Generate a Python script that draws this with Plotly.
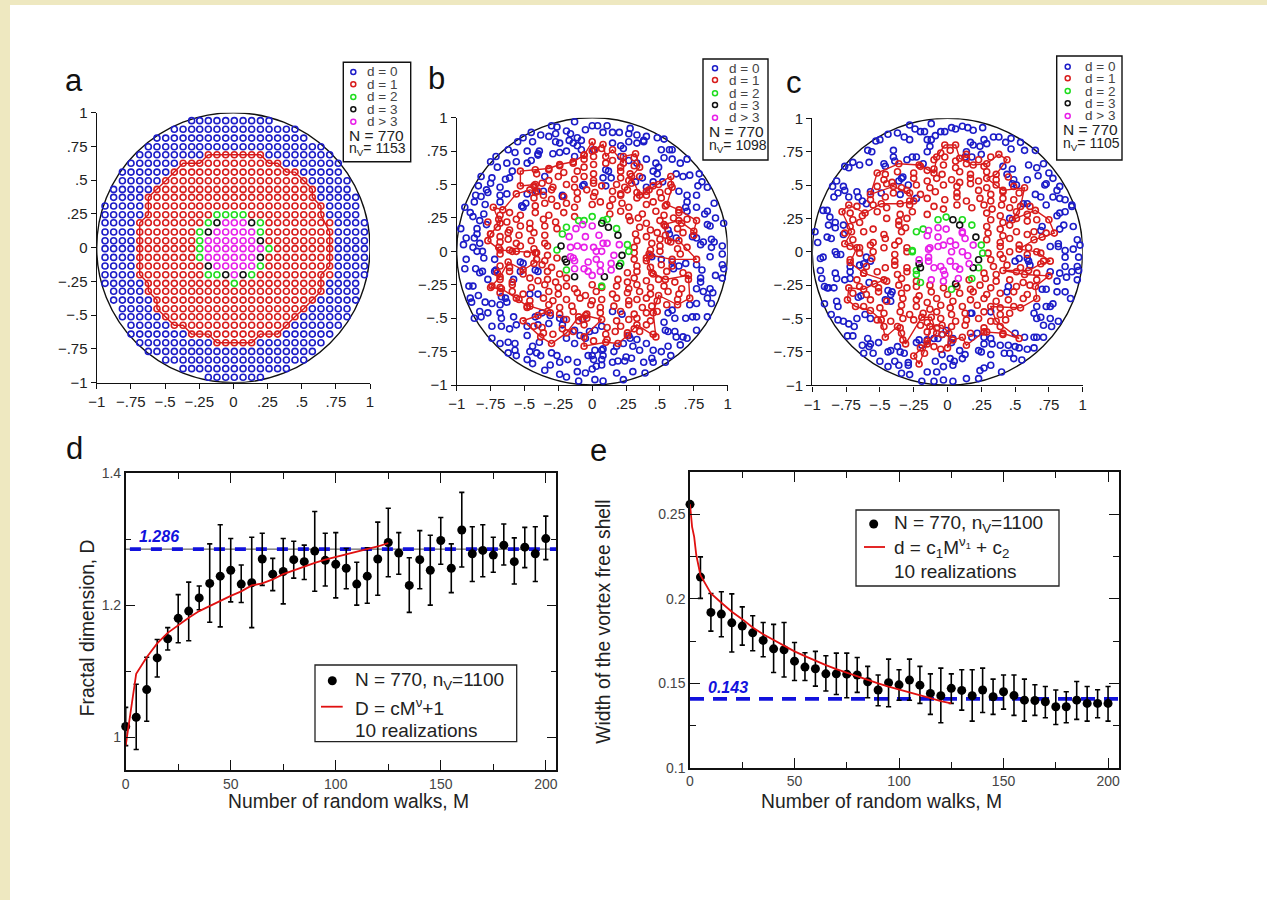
import plotly.graph_objects as go

W, H = 1267, 900
FONT = "Liberation Sans"
BLUE, RED, GREEN, BLACK, MAGENTA = "#1c1cc8", "#d81c1c", "#1edc1e", "#111111", "#e81fe8"

# ---------- panel a: lattice ----------
A_COLS = [-.939,-.876,-.812,-.749,-.685,-.622,-.559,-.495,-.432,-.368,-.305,-.246,-.183,-.12,-.056,.007,
          .071,.134,.198,.261,.324,.388,.451,.515,.578,.641,.705,.768,.832,.895,.959]
A_ROWS = [.941,.877,.812,.748,.689,.625,.56,.496,.432,.373,.309,.244,.185,.116,.052,-.007,-.072,-.136,-.2,
          -.264,-.323,-.388,-.452,-.511,-.575,-.64,-.704,-.768,-.832,-.896,-.96]
A_SPANS = [(10,19),(8,22),(6,23),(5,25),(4,26),(3,27),(2,27),(2,28),(1,28),(1,29),(0,29),(0,29),(0,30),(0,30),(0,30),
           (0,30),(0,30),(0,30),(0,30),(0,29),(1,29),(1,29),(2,28),(2,28),(3,27),(3,26),(4,25),(5,24),(7,23),(9,21),(12,18)]
A_RED_SPANS = {4:(12,18),5:(9,20),6:(8,22),7:(7,23),8:(6,24),9:(5,24),10:(5,25),11:(5,25),12:(4,26),13:(4,26),14:(4,26),
               15:(4,26),16:(4,26),17:(4,26),18:(4,26),19:(5,25),20:(5,25),21:(6,24),22:(6,23),23:(7,22),24:(8,21),25:(10,20),26:(13,17)}
A_CORE = {11:(13,"GGGG"),12:(12,"GKMMMKG"),13:(11,"GKMMMMMG"),14:(11,"GMMMMMMK"),15:(11,"GMMMMMMMG"),
          16:(11,"GMMMMMMK"),17:(12,"KMMMMMG"),18:(12,"GGKMKG"),19:(15,"G")}
A_PATH = [(4,12),(4,18),(5,19),(5,20),(6,21),(6,22),(7,23),(8,24),(9,24),(10,25),(11,25),(13,26),(17,26),(18,25),(20,25),
          (21,24),(22,23),(23,22),(24,21),(25,20),(25,18),(26,17),(26,13),(25,12),(25,10),(24,9),(24,8),(23,7),(22,6),(21,6),
          (20,5),(19,5),(18,4),(12,4),(11,5),(9,5),(8,6),(7,7),(6,8),(5,9),(5,11),(4,12)]

# ---------- panel b (hundredths of the axis unit) ----------
B_BLUE = [(-30,94),(-26,93),(-13,97),(-19,90),(-16,88),(-5,91),(0,94),(4,94),(11,94),(8,89),(15,89),(20,89),(28,92),(27,88),(33,87),(40,86),(38,83),(48,85),(53,84),(59,76),(51,76),(57,76),
(-45,89),(-38,87),(-32,86),(-27,88),(-55,82),(-51,85),(-44,82),(-27,82),(-24,81),(-17,83),(-11,85),(-8,83),(-14,81),(-11,79),(15,81),(21,79),(23,77),(27,82),(33,81),(38,82),(-62,76),(-57,74),(-48,75),(-40,73),(-39,75),(-29,73),(-24,74),(-19,75),(-13,71),(-8,76),(1,76),
(-75,67),(-71,71),(-63,66),(-56,67),(-48,66),(-45,68),(-40,72),(21,71),(27,68),(33,66),(40,69),(47,66),(53,70),(59,69),(65,66),(70,69),
(-70,63),(-82,56),(-74,55),(-64,54),(-61,55),(-59,60),(45,60),(49,63),(48,58),(45,52),(52,52),(62,58),(67,56),(72,57),(79,58),(81,52),(78,49),(85,48),
(-35,56),(10,61),(12,60),(8,55),(14,55),(-7,49),(-6,50),(10,49),(-22,42),(-22,41),(37,55),(40,48),(32,52),
(-84,49),(-78,46),(-75,51),(-68,48),(-86,42),(-82,41),(-77,44),(-68,42),(-63,43),(-48,43),(-52,34),(-49,36),(-51,33),(-41,45),(-36,45),
(64,45),(70,42),(77,42),(70,37),(69,33),(90,36),(85,30),(77,33),(70,30),(-94,33),(-87,37),(-79,35),(-68,37),(-90,29),(-88,26),(-80,28),(-97,17),(-83,23),(-78,20),(-85,17),(-85,13),(-93,10),(-87,10),(-95,5),(-88,3),(-83,6),
(85,20),(87,19),(91,25),(97,21),(83,28),(74,11),(77,10),(82,7),(88,9),(90,7),(96,4),(88,3),(96,-2),(87,-4),(80,5),(56,16),(57,13),(62,10),
(-93,-6),(-85,0),(-81,0),(-80,-5),(-94,-13),(-86,-13),(-83,-16),(-77,-21),(-81,-15),(-72,-6),(-71,-14),(-72,-15),
(-53,-8),(-51,-9),(-42,-14),(-40,-15),(-58,-21),(-53,-15),(44,-4),(51,-6),(59,-8),(60,-13),(64,-11),(69,-9),(77,-10),(81,-14),(80,-20),(80,-23),(91,-18),(96,-20),(96,-10),(97,-13),
(77,-28),(82,-30),(87,-28),(89,-31),(85,-35),(77,-39),(72,-40),(88,-39),(85,-49),(77,-49),(-91,-26),(-88,-26),(-84,-33),(-90,-35),(-89,-38),(-79,-38),(-74,-39),(-67,-34),(-64,-35),(-68,-40),(-63,-38),(-83,-45),(-77,-46),(-87,-50),(-82,-49),(-68,-46),(-67,-50),(-58,-49),(-46,-32),(-40,-32),
(-74,-56),(-67,-56),(-61,-58),(-56,-55),(-48,-56),(-42,-49),(-37,-46),(-31,-48),(-24,-50),(-21,-51),(-40,-55),(-32,-54),(-22,-55),(-13,-59),(-7,-51),(15,-45),(22,-47),
(53,-53),(56,-46),(59,-44),(61,-50),(69,-50),(74,-49),(54,-59),(56,-60),(61,-60),(67,-64),(77,-59),(70,-65),(62,-64),(65,-70),(56,-71),(51,-75),(45,-74),(40,-69),(33,-66),(27,-63),(35,-74),(28,-65),(23,-69),(30,-71),
(-74,-65),(-68,-69),(-62,-68),(-57,-69),(-62,-76),(-57,-74),(-56,-78),(-48,-81),(-44,-84),(-44,-71),(-46,-75),(-41,-76),(-38,-78),(-30,-76),(-26,-78),(-24,-83),(-18,-81),(-11,-83),(-39,-68),(-48,-63),(-19,-65),(-13,-69),(-9,-63),(-5,-65),(-2,-60),(2,-59),(7,-56),(8,-73),(-3,-78),(0,-78),(1,-81),(7,-81),(8,-78),(15,-83),(19,-82),(24,-82),(29,-80),(38,-83),(44,-80),(45,-83),(54,-83),(58,-78),(0,-88),(3,-86),(7,-85),(-35,-89),(-31,-85),(-24,-92),(-19,-94),(-11,-90),(-5,-91),(-10,-97),(2,-96),(8,-97),(18,-91),(23,-96),(30,-90),(39,-91),(18,-71),(16,-75),(7,-74),(2,-74),(25,-79)]
B_RED = [(0,75),(7,77),(-6,72),(-6,69),(1,71),(15,68),(31,70),(-24,64),(-14,66),(-6,63),(1,65),(10,66),(21,63),(31,64),
(-41,58),(-32,61),(-21,59),(-11,60),(1,58),(21,60),(28,58),(-32,53),(-25,56),(-13,54),(-6,56),(1,53),(21,55),(27,53),(35,56),
(-43,49),(-37,51),(-29,48),(-19,50),(-13,48),(1,51),(7,49),(18,50),(24,48),(29,51),(45,49),(58,50),
(-42,44),(-30,46),(-11,44),(-4,46),(2,44),(15,45),(21,43),(26,46),(33,44),(42,46),(50,44),(56,45),
(-43,40),(-36,42),(-30,39),(-21,41),(-11,39),(1,41),(15,39),(21,42),(33,40),(40,42),(51,40),
(-42,34),(-35,36),(-26,34),(-19,36),(-13,33),(0,35),(6,37),(13,34),(22,36),(27,33),(40,35),(45,37),(54,34),
(-68,27),(-61,29),(-53,27),(-42,29),(-32,27),(-21,29),(-13,26),(13,28),(21,30),(27,26),(37,28),(47,30),(53,27),(64,29),
(-77,22),(-69,24),(-63,22),(-56,24),(-46,21),(-36,24),(-27,22),(28,23),(34,25),(40,21),(50,23),(60,25),(66,21),(70,24),
(-70,18),(-61,16),(-53,19),(-46,17),(-35,19),(-26,17),(35,18),(43,16),(54,19),(63,17),
(-75,13),(-68,11),(-62,14),(-54,12),(-43,14),(-35,12),(32,13),(40,11),(48,14),(54,12),(67,14),(75,12),
(-68,7),(-62,9),(-56,6),(-45,8),(-35,6),(33,8),(44,6),(50,9),(58,7),
(-69,3),(-61,1),(-53,4),(-43,2),(-33,4),(31,3),(43,1),(50,4),(63,2),(70,3),
(-68,-2),(-59,0),(-48,-2),(-41,-1),(-33,-3),(31,-1),(42,-2),(50,0),(65,-2),
(-41,-6),(-35,-7),(-26,-5),(31,-6),(40,-7),
(-68,-11),(-61,-12),(-37,-10),(-30,-12),(33,-11),(43,-12),(51,-10),(59,-11),
(-70,-16),(-61,-15),(-51,-17),(-33,-15),(-24,-17),(26,-16),(33,-15),(45,-17),(55,-15),(67,-16),
(-68,-21),(-59,-23),(-46,-20),(-40,-22),(-33,-21),(-27,-23),(-19,-20),(19,-21),(26,-23),(31,-20),(40,-22),(49,-21),(61,-23),(71,-21),
(-74,-26),(-68,-27),(-59,-25),(-45,-27),(-35,-25),(-25,-27),(-19,-26),(-13,-28),(0,-25),(7,-27),(18,-26),(27,-28),(33,-25),(43,-27),(53,-26),(66,-28),
(-68,-31),(-59,-30),(-51,-32),(-32,-30),(-25,-32),(-11,-31),(-5,-33),(3,-30),(15,-32),(26,-31),(35,-30),(43,-32),(56,-30),(64,-32),
(-54,-36),(-46,-37),(-36,-35),(-29,-37),(-19,-36),(-9,-35),(0,-37),(7,-36),(18,-35),(27,-37),(33,-36),(40,-35),(48,-37),(63,-36),
(-48,-42),(-32,-40),(-24,-42),(-15,-41),(-1,-40),(6,-42),(16,-41),(27,-40),(37,-42),(44,-41),(55,-40),
(-31,-46),(-24,-47),(-14,-45),(-4,-47),(6,-46),(21,-45),(31,-47),(40,-46),(48,-45),
(-19,-51),(-10,-52),(-4,-50),(18,-52),(27,-51),(33,-50),(43,-52),
(-43,-56),(-37,-57),(-22,-58),(-6,-55),(11,-57),(21,-56),(31,-58),(40,-55),
(-36,-61),(-29,-62),(-14,-60),(10,-62),(17,-60),(26,-61),(35,-60),(45,-62),(1,-67),(11,-66)]
B_PATH = [(0,82),(2,76),(8,80),(10,71),(15,76),(23,66),(23,71),(32,73),(35,63),(29,56),(35,42),(40,45),(49,50),(58,56),(59,48),(55,35),(64,31),(77,23),(75,15),(64,23),(53,20),(56,8),(64,8),(77,-6),(59,-6),(43,-3),(40,-5),(44,-16),(54,-21),(71,-18),(72,-35),(63,-40),(49,-33),(45,-46),(47,-64),(33,-55),(26,-63),(19,-69),(10,-68),(-6,-71),(-6,-64),(7,-51),(-5,-48),(-10,-49),(-19,-61),(-30,-69),(-38,-64),(-51,-52),(-40,-48),(-33,-45),(-46,-41),(-48,-41),(-56,-35),(-67,-28),(-75,-27),(-68,-19),(-62,-8),(-51,-14),(-43,-9),(-42,-1),(-56,0),(-68,1),(-77,8),(-75,13),(-68,21),(-73,33),(-66,31),(-56,43),(-46,46),(-40,45),(-42,50),(-53,49),(-53,60),(-42,61),(-32,62),(-24,65),(-14,67),(-6,72),(0,82)]
B_GREEN = [(-10,23),(-6,23),(0,26),(8,23),(11,24),(18,17),(-19,18),(-22,13),(-26,1),(26,5),(27,0),(21,-9),(-19,-14),(7,-26)]
B_BLACK = [(7,21),(12,18),(19,12),(22,-3),(20,-11),(-23,4),(-20,-6),(-19,-8),(-13,-19),(9,-19)]
B_MAGENTA = [(-7,20),(-12,17),(-17,11),(0,19),(-5,11),(5,12),(8,6),(11,6),(20,5),(-16,3),(-11,4),(-6,3),(1,3),(3,0),(7,0),(16,-3),(-16,-4),(-13,-7),(-3,-8),(3,-6),(14,-9),(6,-10),(-13,-13),(-6,-13),(-3,-15),(0,-18),(6,-15),(14,-14),(-14,-5)]

# ---------- panel c ----------
C_BLUE = [(-28,95),(-24,92),(-20,90),(-17,90),(-12,96),(-9,87),(-5,90),(-2,90),(3,93),(6,92),(11,94),(15,93),(19,91),(26,93),(17,82),(19,80),(24,79),(27,84),(29,81),(34,86),(38,86),(47,85),(54,82),(43,82),(47,77),(57,76),(65,76),(-44,88),(-37,89),(-32,86),(-28,84),(-53,83),(-50,84),(-59,76),(-56,75),(-40,76),(-40,71),(-47,66),(-46,64),(-39,68),(-30,69),(-26,71),(-23,71),(-70,67),(-76,64),(-73,63),(-65,65),(-58,67),(-15,84),(-12,84),(-13,79),(-15,75),(-18,66),(14,75),(13,71),(25,73),(18,71),
(41,64),(44,58),(48,62),(60,65),(66,63),(71,66),(75,59),(78,55),(67,57),(59,54),(49,54),(51,50),(48,51),(73,51),(72,50),(83,49),(81,46),(78,41),(65,43),(69,41),(73,35),(92,35),(83,40),(87,39),
(-85,49),(-82,53),(-77,49),(-76,46),(-84,41),(-81,44),(-73,41),(-67,45),(-66,41),(-63,38),(-60,36),(-57,45),(-49,44),(-35,43),(-34,55),(-33,56),(-29,50),(-36,53),(-23,40),
(-92,31),(-89,31),(-87,26),(-83,22),(-88,20),(-83,18),(-77,20),(-77,13),(-98,15),(-86,10),(-89,11),(-96,7),(-92,-4),(-94,-5),(-83,0),(-82,-2),(-79,-2),(-94,-14),(-93,-20),(-83,-16),(-82,-20),(-76,-21),(-72,-20),(-72,-15),(-72,-11),(-65,-10),(-62,-9),(-60,-4),(-57,-7),(-58,-23),
(56,36),(59,36),(46,25),(70,19),(69,16),(83,29),(87,30),(81,27),(92,34),(86,20),(93,19),(83,17),(96,9),(98,5),(82,6),(82,4),(76,4),(87,1),(87,-4),(93,2),(97,-4),(50,-7),(53,-5),(59,-5),(60,-7),(61,-10),(87,-11),(96,-11),(97,-14),(92,-15),(96,-21),(76,-15),(83,-16),(88,-19),(81,-22),
(45,-26),(44,-30),(70,-28),(73,-28),(81,-30),(87,-30),(91,-35),(73,-41),(76,-41),(78,-39),(66,-41),(64,-46),(69,-49),(76,-50),(71,-55),(77,-56),(82,-52),(66,-50),(32,-45),(18,-46),(17,-46),
(-91,-26),(-88,-27),(-84,-27),(-91,-39),(-89,-27),(-82,-37),(-81,-41),(-86,-47),(-81,-51),(-73,-54),(-77,-52),(-66,-34),(-64,-33),(-46,-36),(-42,-37),(-41,-30),(-42,-32),(-44,-29),(-61,-47),(-57,-50),(-67,-50),(-69,-56),(-74,-63),(-70,-63),(-63,-70),(-62,-76),(-59,-65),(-57,-69),(-51,-68),(-58,-71),(-55,-76),(-50,-82),(-44,-86),(-44,-75),(-42,-74),(-37,-71),(-35,-75),(-39,-82),(-32,-76),(-36,-85),(-34,-91),(-29,-83),
(-23,-68),(-21,-66),(-15,-66),(-19,-70),(-10,-65),(-7,-65),(-4,-62),(-1,-59),(4,-65),(3,-68),(-9,-82),(-4,-77),(2,-80),(5,-82),(9,-74),(13,-77),(4,-85),(11,-80),(18,-64),(22,-61),(27,-64),(32,-65),(33,-69),(27,-69),(23,-74),(25,-75),(32,-77),(39,-70),(45,-70),(42,-76),(46,-76),(50,-71),(53,-72),(49,-80),(55,-81),(59,-73),(64,-72),(57,-64),(64,-64),(66,-64),(71,-64),(50,-61),(-3,-86),(-15,-90),(-8,-90),(-10,-97),(-19,-97),(-3,-96),(4,-97),(14,-95),(23,-95),(24,-89),(27,-87),(40,-90),(32,-85),(-28,-92),(-29,-85)]
C_RED = [(-5,74),(2,76),(14,73),(-10,69),(-2,71),(6,68),(14,70),(23,69),(32,71),(-20,64),(-10,62),(-3,65),(6,63),(14,66),(27,64),
(-46,58),(-37,60),(-25,59),(-15,61),(-4,58),(9,60),(17,58),(29,60),(-47,54),(-41,52),(-25,55),(-15,53),(-8,55),(3,54),(9,52),(17,55),(23,53),(36,54),(45,56),
(-52,49),(-45,51),(-34,48),(-23,50),(-13,48),(-3,50),(7,49),(17,51),(29,48),(36,50),(49,49),(-40,44),(-30,46),(-20,43),(-9,45),(7,44),(23,46),(32,43),(41,45),(53,44),
(-57,39),(-46,41),(-28,38),(-15,40),(-2,39),(7,41),(14,38),(24,40),(32,38),(41,40),(49,39),(-67,34),(-55,35),(-45,33),(-28,35),(-10,34),(-3,32),(7,35),(18,33),(27,35),(33,32),(40,35),(46,33),(61,34),
(-72,29),(-63,27),(-52,30),(-35,28),(-26,30),(-15,28),(29,29),(39,27),(51,30),(59,28),(-70,24),(-65,22),(-45,25),(-36,23),(-30,25),(32,24),(41,22),(51,25),(59,23),(66,24),
(-72,19),(-55,17),(-36,20),(-31,18),(29,19),(39,17),(46,20),(-76,14),(-62,15),(-47,13),(-34,15),(30,14),(41,12),(51,15),(59,13),(64,15),(73,14),
(-70,9),(-55,7),(-46,10),(-36,8),(29,9),(39,7),(46,10),(-72,4),(-65,3),(-57,5),(-47,3),(-39,5),(-30,3),(39,4),(53,5),(60,3),
(-65,-1),(-55,0),(-39,-2),(-30,0),(30,-1),(39,-2),(46,0),(59,-2),(69,-1),(-72,-6),(-56,-5),(-39,-7),(32,-6),(41,-5),(71,-7),
(-60,-11),(-46,-12),(-39,-10),(-30,-12),(34,-11),(44,-10),(54,-12),(-62,-16),(-52,-15),(-37,-17),(-30,-15),(27,-16),(36,-17),(51,-15),(66,-16),
(-67,-21),(-45,-22),(-34,-20),(-23,-22),(16,-21),(28,-20),(36,-22),(46,-21),(56,-23),(66,-21),
(-65,-26),(-51,-27),(-36,-25),(-30,-27),(-23,-26),(-13,-25),(-3,-27),(7,-26),(17,-28),(24,-25),(32,-27),(51,-26),(61,-25),
(-70,-31),(-60,-32),(-51,-30),(-34,-31),(-21,-33),(-12,-30),(0,-32),(9,-31),(19,-30),(29,-32),(39,-31),(49,-30),(59,-32),
(-57,-36),(-45,-37),(-33,-35),(-23,-36),(-15,-38),(-8,-35),(4,-37),(17,-36),(27,-35),(36,-37),(45,-36),(56,-35),
(-62,-41),(-50,-42),(-34,-40),(-23,-41),(-13,-43),(-5,-40),(2,-42),(11,-41),(22,-40),(39,-42),(49,-41),
(-47,-46),(-35,-45),(-28,-47),(-18,-46),(-8,-45),(3,-47),(13,-46),(27,-45),(39,-47),(46,-46),
(-52,-51),(-42,-52),(-33,-50),(-25,-51),(-15,-53),(-5,-50),(6,-52),(14,-51),(23,-50),(32,-52),(43,-51),
(-47,-56),(-35,-57),(-20,-55),(-8,-57),(3,-56),(13,-55),(27,-57),(39,-56),(-34,-61),(-15,-60),(-4,-62),(17,-61),(29,-60),(41,-62),(-33,-66),(-15,-67),(-20,-72),(-10,-71),(-5,-73),(-17,-76)]
C_PATH = [(-2,80),(6,80),(9,70),(19,65),(29,66),(38,73),(44,69),(36,58),(29,55),(41,46),(57,48),(54,34),(48,24),(65,31),(75,24),(79,14),(70,11),(64,9),(53,2),(66,0),(76,-7),(69,-9),(60,-14),(41,-14),(57,-17),(75,-18),(65,-26),(66,-35),(54,-42),(32,-41),(36,-52),(53,-65),(41,-61),(27,-60),(14,-70),(11,-64),(4,-66),(0,-72),(1,-61),(-4,-55),(-13,-56),(-15,-69),(-21,-84),(-25,-78),(-8,-61),(-12,-49),(-19,-49),(-31,-69),(-37,-56),(-46,-64),(-49,-51),(-57,-44),(-68,-41),(-74,-36),(-73,-27),(-62,-28),(-54,-24),(-47,-21),(-62,-16),(-72,-8),(-67,3),(-76,6),(-71,15),(-78,30),(-73,35),(-61,29),(-49,36),(-35,36),(-25,38),(-28,44),(-40,49),(-57,43),(-52,59),(-36,66),(-21,65),(-10,59),(-8,71),(-2,80)]
C_GREEN = [(-7,24),(-1,26),(11,24),(18,20),(-18,17),(-23,15),(-26,1),(-26,0),(25,5),(26,-1),(23,-12),(18,-20),(-23,-14),(-23,-17),(-20,-23),(3,-28)]
C_BLACK = [(4,24),(9,20),(21,11),(23,-6),(19,-12),(-21,-9),(-20,-12),(6,-24)]
C_MAGENTA = [(-15,12),(-14,16),(-7,18),(-1,17),(11,15),(13,10),(11,14),(-7,11),(2,8),(-3,5),(-7,4),(-13,3),(-14,2),(6,5),(19,5),(3,0),(11,0),(15,-3),(-21,-6),(-14,-4),(-14,-7),(2,-7),(6,-11),(9,-13),(-10,-12),(-5,-11),(-3,-14),(-2,-17),(-12,-21),(-3,-22),(8,-20),(16,-9)]

# ---------- panel d ----------
M_VALUES = [0,5,10,15,20,25,30,35,40,45,50,55,60,65,70,75,80,85,90,95,100,105,110,115,120,125,130,135,140,145,150,155,160,165,170,175,180,185,190,195,200]
D_Y = [1.016,1.03,1.072,1.12,1.149,1.18,1.191,1.211,1.233,1.244,1.253,1.232,1.234,1.27,1.247,1.251,1.269,1.266,1.282,1.268,1.262,1.256,1.232,1.244,1.27,1.295,1.279,1.23,1.269,1.253,1.298,1.256,1.314,1.278,1.283,1.276,1.291,1.266,1.288,1.278,1.301]
D_HI = [1.045,1.08,1.121,1.148,1.166,1.216,1.235,1.229,1.293,1.322,1.301,1.261,1.303,1.309,1.271,1.301,1.297,1.291,1.342,1.309,1.31,1.286,1.265,1.287,1.326,1.347,1.31,1.272,1.313,1.306,1.333,1.293,1.371,1.319,1.322,1.303,1.323,1.302,1.318,1.319,1.335]
D_LO = [.987,.981,1.024,1.091,1.132,1.143,1.146,1.193,1.174,1.167,1.205,1.204,1.166,1.23,1.222,1.202,1.241,1.239,1.221,1.229,1.211,1.225,1.2,1.203,1.215,1.243,1.247,1.189,1.225,1.2,1.262,1.219,1.258,1.236,1.243,1.25,1.261,1.232,1.257,1.236,1.269]
D_FIT_M = [0,5,10,15,20,25,30,35,40,45,50,55,60,65,70,75,80,85,90,95,100,105,110,115,120,125]
D_FIT = [.987,1.096,1.121,1.142,1.158,1.17,1.181,1.191,1.199,1.206,1.214,1.221,1.23,1.233,1.239,1.247,1.253,1.258,1.264,1.269,1.273,1.276,1.28,1.284,1.289,1.294]
D_LEVEL = 1.285
D_LEVEL_X = [2,205]

# ---------- panel e ----------
E_Y = [.256,.2129,.192,.191,.1858,.1839,.1799,.1754,.1704,.1699,.1631,.1596,.1586,.1556,.1556,.1554,.1549,.1509,.146,.1503,.1491,.1519,.1489,.144,.1426,.147,.1458,.1426,.146,.142,.145,.1428,.14,.1398,.1391,.1361,.1361,.14,.1381,.1381,.1381]
E_HI = [.256,.2249,.2032,.2042,.203,.1953,.19,.186,.1849,.186,.1742,.1681,.1689,.1663,.1679,.1679,.1653,.16,.1549,.1643,.158,.1643,.16,.1556,.159,.1556,.158,.158,.159,.1525,.1549,.1549,.1525,.1491,.1481,.146,.145,.1511,.1481,.1462,.1481]
E_LO = [.256,.2003,.1809,.1776,.1685,.1726,.1693,.1657,.1564,.1537,.1517,.1517,.1483,.1454,.1434,.1414,.1446,.1414,.1367,.1361,.14,.14,.1381,.1316,.1266,.1381,.1341,.1276,.1327,.1316,.1347,.131,.1276,.131,.1296,.1256,.1266,.1286,.1276,.1296,.1276]
E_FIT_M = [0,1,2,3,5,10,15,20,25,30,35,40,45,50,55,60,65,70,75,80,85,90,95,100,105,110,115,120,125]
E_FIT = [.256,.2427,.2368,.226,.214,.2032,.1977,.1924,.188,.1831,.1791,.1756,.172,.1689,.1661,.1633,.1608,.1584,.1562,.1543,.1521,.15,.148,.1464,.1448,.143,.1412,.1395,.1381]
E_LEVEL = 0.1408
E_LEVEL_X = [0,205]

# ---------- axis labels ----------
DISC_TICKS = [-1,-.75,-.5,-.25,0,.25,.5,.75,1]
DISC_LABELS = ["\u22121","\u2212.75","\u2212.5","\u2212.25","0",".25",".5",".75","1"]


def px(x): return x / W
def py(y): return 1 - y / H


fig = go.Figure()
shapes, notes = [], []


def note(x, y, text, size, color="#222", anchor="left", angle=0, **kw):
    notes.append(dict(xref="paper", yref="paper", x=px(x), y=py(y), text=text, showarrow=False, xanchor=anchor,
                      yanchor="middle", textangle=angle, font=dict(family=FONT, size=size, color=color), **kw))


def open_pts(pts, color, ax, scale=100.0):
    fig.add_trace(go.Scatter(x=[p[0] / scale for p in pts], y=[p[1] / scale for p in pts], mode="markers",
                             xaxis="x" + ax, yaxis="y" + ax, cliponaxis=False, showlegend=False,
                             marker=dict(symbol="circle-open", size=6, color=color, line=dict(width=1.6, color=color))))


def path_line(pts, ax, scale=100.0):
    fig.add_trace(go.Scatter(x=[p[0] / scale for p in pts], y=[p[1] / scale for p in pts], mode="lines",
                             xaxis="x" + ax, yaxis="y" + ax, cliponaxis=False, showlegend=False,
                             line=dict(color=RED, width=1.4)))


def disc_axes(n, left, right, top, bottom):
    sfx = "" if n == 1 else str(n)
    common = dict(range=[-1, 1], tickvals=DISC_TICKS, ticktext=DISC_LABELS, ticks="outside", ticklen=5, tickwidth=1.3,
                  tickcolor="#111", showline=True, linecolor="#111", linewidth=1.4, showgrid=False, zeroline=False,
                  automargin=False, tickfont=dict(family=FONT, size=15, color="#222"))
    fig.layout["xaxis" + sfx] = dict(common, domain=[px(left), px(right)], anchor="y" + sfx)
    fig.layout["yaxis" + sfx] = dict(common, domain=[py(bottom), py(top)], anchor="x" + sfx)
    shapes.append(dict(type="circle", xref="x" + sfx, yref="y" + sfx, x0=-1, x1=1, y0=-1, y1=1,
                       line=dict(color="#111", width=1.4), layer="below"))


def disc_legend(box, key_x, text_x, rows, info_x, n_y, v_y, nv):
    shapes.append(dict(type="rect", xref="paper", yref="paper", x0=px(box[0]), x1=px(box[1]), y0=py(box[3]), y1=py(box[2]),
                       line=dict(color="#111", width=1.4), fillcolor="white"))
    for yy, label, color in zip(rows, ["d = 0", "d = 1", "d = 2", "d = 3", "d > 3"], [BLUE, RED, GREEN, BLACK, MAGENTA]):
        shapes.append(dict(type="circle", xref="paper", yref="paper", x0=px(key_x - 2.5), x1=px(key_x + 2.5),
                           y0=py(yy + 2.5), y1=py(yy - 2.5), line=dict(color=color, width=1.5)))
        note(text_x, yy, label, 13.5, color="#444")
    note(info_x, n_y, "N = 770", 15.5)
    note(info_x, v_y, "n<sub>V</sub>= " + nv, 14)


def grace_axes(n, left, right, top, bottom, xr, yr, ymaj, ymin, ylabels):
    sfx = str(n)
    base = dict(ticks="inside", ticklen=10, tickwidth=1.3, tickcolor="#111", mirror="allticks", showline=True,
                linecolor="#111", linewidth=1.5, showgrid=False, zeroline=False, automargin=False,
                tickfont=dict(family=FONT, size=14, color="#444"))
    fig.layout["xaxis" + sfx] = dict(base, domain=[px(left), px(right)], anchor="y" + sfx, range=xr,
                                     tickvals=[0, 50, 100, 150, 200], ticktext=["0", "50", "100", "150", "200"],
                                     minor=dict(tickvals=[25, 75, 125, 175], ticks="inside", ticklen=6, tickcolor="#111"))
    fig.layout["yaxis" + sfx] = dict(base, domain=[py(bottom), py(top)], anchor="x" + sfx, range=yr,
                                     tickvals=ymaj, ticktext=ylabels,
                                     minor=dict(tickvals=ymin, ticks="inside", ticklen=6, tickcolor="#111"))


def grace_data(ax, ys, his, los, fit_m, fit, level, level_x, dash):
    fig.add_trace(go.Scatter(x=level_x, y=[level, level], mode="lines", xaxis="x" + ax, yaxis="y" + ax, showlegend=False,
                             line=dict(color="#1212dd", width=3.6, dash=dash)))
    fig.add_trace(go.Scatter(x=M_VALUES, y=ys, mode="markers", xaxis="x" + ax, yaxis="y" + ax, cliponaxis=False, showlegend=False,
                             marker=dict(size=9, color="#000"),
                             error_y=dict(type="data", symmetric=False, array=[h - v for h, v in zip(his, ys)],
                                          arrayminus=[v - l for l, v in zip(los, ys)], thickness=1.6, width=2.6, color="#000")))
    fig.add_trace(go.Scatter(x=fit_m, y=fit, mode="lines", xaxis="x" + ax, yaxis="y" + ax, cliponaxis=False, showlegend=False,
                             line=dict(color="#e01010", width=1.8)))


# panel a
disc_axes(1, 96.7, 370, 112.7, 382.7)
ax_pts = {"B": [], "R": [], "G": [], "K": [], "M": []}
for r, (c0, c1) in enumerate(A_SPANS):
    red = A_RED_SPANS.get(r)
    core = A_CORE.get(r)
    for c in range(c0, c1 + 1):
        kind = "R" if red and red[0] <= c <= red[1] else "B"
        if core and core[0] <= c < core[0] + len(core[1]):
            kind = core[1][c - core[0]]
        ax_pts[kind].append((A_COLS[c], A_ROWS[r]))
open_pts(ax_pts["B"], BLUE, "", 1.0)
path_line([(A_COLS[c], A_ROWS[r]) for r, c in A_PATH], "", 1.0)
open_pts(ax_pts["R"], RED, "", 1.0)
open_pts(ax_pts["G"], GREEN, "", 1.0)
open_pts(ax_pts["K"], BLACK, "", 1.0)
open_pts(ax_pts["M"], MAGENTA, "", 1.0)

# panel b
disc_axes(2, 456.7, 727.7, 117.7, 385)
open_pts(B_BLUE, BLUE, "2")
path_line(B_PATH, "2")
open_pts(B_RED + B_PATH[:-1], RED, "2")
open_pts(B_GREEN, GREEN, "2")
open_pts(B_BLACK, BLACK, "2")
open_pts(B_MAGENTA, MAGENTA, "2")

# panel c
disc_axes(3, 812.3, 1082.7, 118.3, 385.3)
open_pts(C_BLUE, BLUE, "3")
path_line(C_PATH, "3")
open_pts(C_RED + C_PATH[:-1], RED, "3")
open_pts(C_GREEN, GREEN, "3")
open_pts(C_BLACK, BLACK, "3")
open_pts(C_MAGENTA, MAGENTA, "3")

# panels d, e
grace_axes(4, 125.7, 556.3, 473.3, 770, [0, 205], [0.95, 1.4], [1, 1.2, 1.4], [1.1, 1.3], ["1", "1.2", "1.4"])
fig.add_trace(go.Scatter(x=[0, 205], y=[D_LEVEL, D_LEVEL], mode="lines", xaxis="x4", yaxis="y4", showlegend=False,
                         line=dict(color="#444", width=1)))
grace_data("4", D_Y, D_HI, D_LO, D_FIT_M, D_FIT, D_LEVEL, D_LEVEL_X, "11px,10px")
grace_axes(5, 690, 1118.5, 472.3, 767.7, [0, 205], [0.1, 0.275], [.1, .15, .2, .25], [.125, .175, .225, .275],
           ["0.1", "0.15", "0.2", "0.25"])
grace_data("5", E_Y, E_HI, E_LO, E_FIT_M, E_FIT, E_LEVEL, E_LEVEL_X, "14px,9px")

# cream bands along the page edges
shapes.append(dict(type="rect", xref="paper", yref="paper", x0=0, x1=1, y0=py(5), y1=1, line_width=0, fillcolor="#EEE8C0", layer="below"))
shapes.append(dict(type="rect", xref="paper", yref="paper", x0=0, x1=px(10), y0=0, y1=1, line_width=0, fillcolor="#EEE8C0", layer="below"))

# disc legends
disc_legend((343.3, 410.7, 62.3, 161.7), 353.3, 365, [72, 84.3, 97, 109.3, 121.7], 346.7, 135.7, 149.3, "1153")
disc_legend((703, 768, 59, 160), 715, 726.7, [68.3, 80, 93.3, 105, 117.7], 706.7, 131.7, 146, "1098")
disc_legend((1056.7, 1122, 56, 160), 1067.7, 1083.3, [66.7, 78.3, 91, 103.3, 116], 1061, 130, 144.3, "1105")

# grace legends
for box, dot, seg, tx, ys, eq in [
    ((315, 516.7, 665, 741.7), (332.3, 680.7), (321, 342.7), 353.3, (680.7, 706.7, 730), "D = cM<sup>\u03bd</sup>+1"),
    ((856, 1059, 510, 586), (873.7, 524), (864, 885), 892, (524, 547, 571), "d = c<sub>1</sub>M<sup>\u03bd<sub>1</sub></sup> + c<sub>2</sub>"),
]:
    shapes.append(dict(type="rect", xref="paper", yref="paper", x0=px(box[0]), x1=px(box[1]), y0=py(box[3]), y1=py(box[2]),
                       line=dict(color="#222", width=1.3), fillcolor="white"))
    shapes.append(dict(type="circle", xref="paper", yref="paper", x0=px(dot[0] - 4.5), x1=px(dot[0] + 4.5),
                       y0=py(dot[1] + 4.5), y1=py(dot[1] - 4.5), fillcolor="#000", line_width=0))
    shapes.append(dict(type="line", xref="paper", yref="paper", x0=px(seg[0]), x1=px(seg[1]), y0=py(ys[1]), y1=py(ys[1]),
                       line=dict(color="#e01010", width=1.8)))
    note(tx, ys[0], "N = 770, n<sub>V</sub>=1100", 19)
    note(tx, ys[1], eq, 19)
    note(tx, ys[2], "10 realizations", 19)

# panel letters
for x, y, t in [(74, 80, "a"), (436, 78, "b"), (794, 82, "c"), (74, 448, "d"), (598, 451, "e")]:
    note(x, y, t, 31, color="#111", anchor="center")

# axis titles
note(348.3, 801.7, "Number of random walks, M", 19.3, anchor="center")
note(87.3, 628, "Fractal dimension, D", 19.3, anchor="center", angle=-90)
note(881.5, 801.7, "Number of random walks, M", 19.3, anchor="center")
note(604, 621.7, "Width of the vortex free shell", 19.3, anchor="center", angle=-90)
note(159.3, 536.7, "<b><i>1.286</i></b>", 16, color="#1212dd", anchor="center")
note(728, 687, "<b><i>0.143</i></b>", 16, color="#1212dd", anchor="center")

fig.update_layout(width=W, height=H, margin=dict(l=0, r=0, t=0, b=0, autoexpand=False), paper_bgcolor="white",
                  plot_bgcolor="rgba(0,0,0,0)", showlegend=False, shapes=shapes, annotations=notes, font=dict(family=FONT))

# pin the figure to the page corner so that it fills the 1267x900 window exactly
PIN = ("document.body.style.margin='0';"
       "const g=document.querySelector('.plotly-graph-div');"
       "g.style.position='fixed';g.style.left='0';g.style.top='0';g.style.margin='0';")
fig.write_html("out.html", config={"displayModeBar": False}, post_script=PIN)
